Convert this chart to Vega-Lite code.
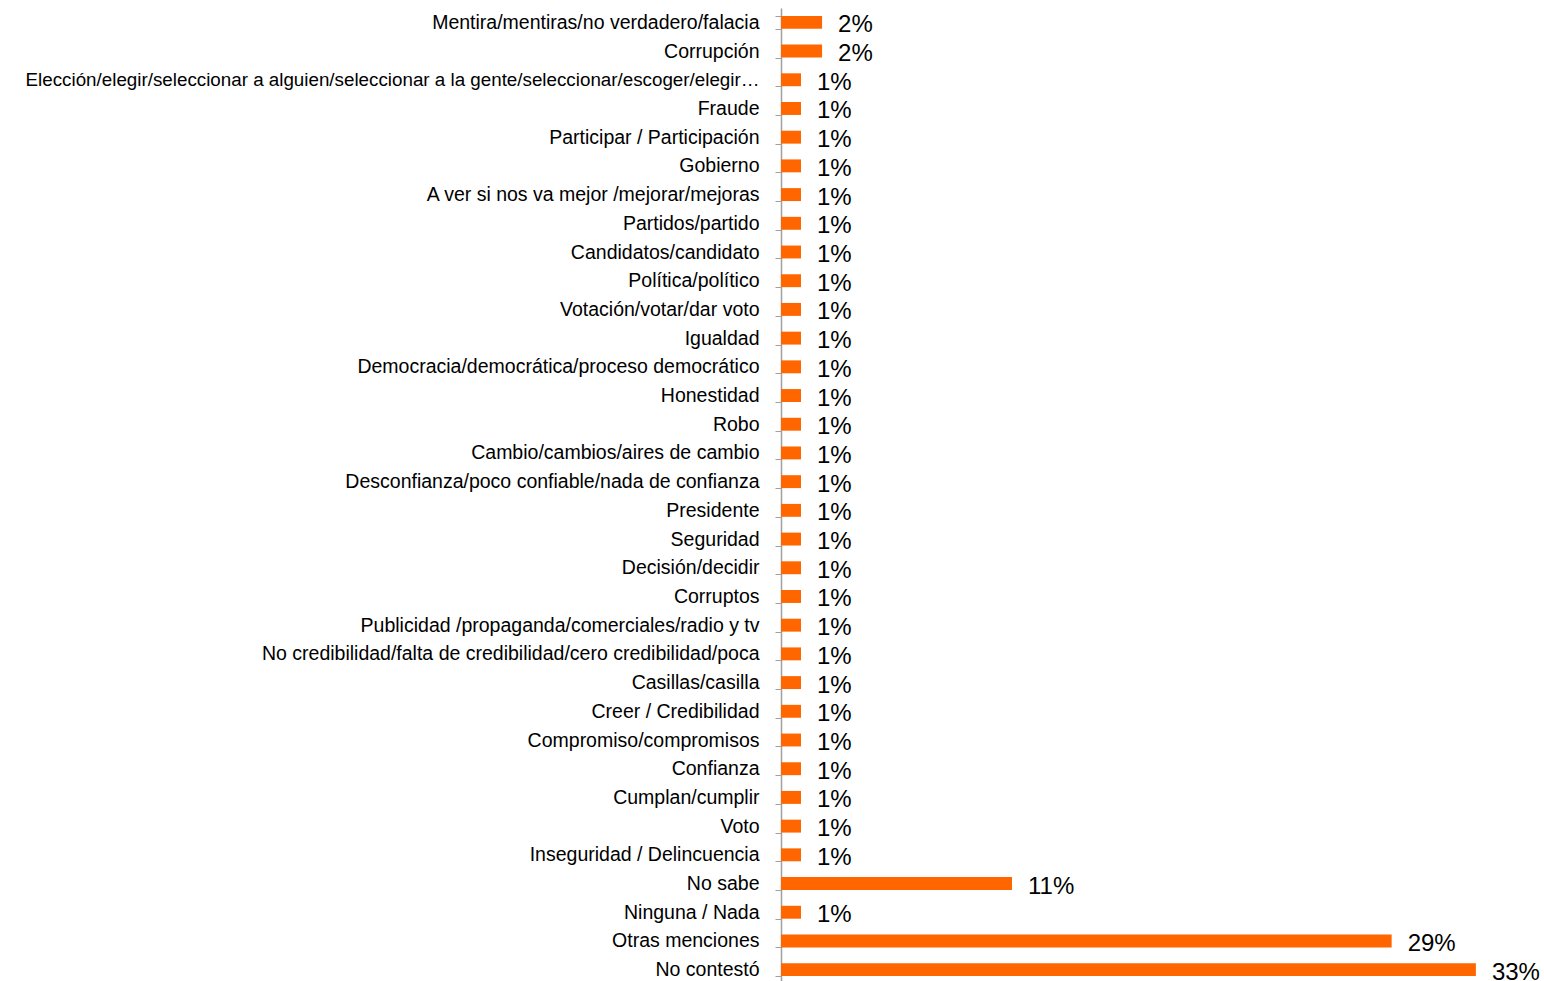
{
  "$schema": "https://vega.github.io/schema/vega-lite/v6.json",
  "autosize": "none",
  "width": 737,
  "height": 976,
  "padding": {"left": 781, "top": 8, "right": 26, "bottom": 0},
  "background": "white",
  "config": {"view": {"stroke": null}},
  "data": {"values": [
    {"cat": "Mentira/mentiras/no verdadero/falacia", "pct": 0.0195},
    {"cat": "Corrupción", "pct": 0.0195},
    {"cat": "Elección/elegir/seleccionar a alguien/seleccionar a la gente/seleccionar/escoger/elegir…", "pct": 0.0095},
    {"cat": "Fraude", "pct": 0.0095},
    {"cat": "Participar / Participación", "pct": 0.0095},
    {"cat": "Gobierno", "pct": 0.0095},
    {"cat": "A ver si nos va mejor /mejorar/mejoras", "pct": 0.0095},
    {"cat": "Partidos/partido", "pct": 0.0095},
    {"cat": "Candidatos/candidato", "pct": 0.0095},
    {"cat": "Política/político", "pct": 0.0095},
    {"cat": "Votación/votar/dar voto", "pct": 0.0095},
    {"cat": "Igualdad", "pct": 0.0095},
    {"cat": "Democracia/democrática/proceso democrático", "pct": 0.0095},
    {"cat": "Honestidad", "pct": 0.0095},
    {"cat": "Robo", "pct": 0.0095},
    {"cat": "Cambio/cambios/aires de cambio", "pct": 0.0095},
    {"cat": "Desconfianza/poco confiable/nada de confianza", "pct": 0.0095},
    {"cat": "Presidente", "pct": 0.0095},
    {"cat": "Seguridad", "pct": 0.0095},
    {"cat": "Decisión/decidir", "pct": 0.0095},
    {"cat": "Corruptos", "pct": 0.0095},
    {"cat": "Publicidad /propaganda/comerciales/radio y tv", "pct": 0.0095},
    {"cat": "No credibilidad/falta de credibilidad/cero credibilidad/poca", "pct": 0.0095},
    {"cat": "Casillas/casilla", "pct": 0.0095},
    {"cat": "Creer / Credibilidad", "pct": 0.0095},
    {"cat": "Compromiso/compromisos", "pct": 0.0095},
    {"cat": "Confianza", "pct": 0.0095},
    {"cat": "Cumplan/cumplir", "pct": 0.0095},
    {"cat": "Voto", "pct": 0.0095},
    {"cat": "Inseguridad / Delincuencia", "pct": 0.0095},
    {"cat": "No sabe", "pct": 0.1097},
    {"cat": "Ninguna / Nada", "pct": 0.0095},
    {"cat": "Otras menciones", "pct": 0.29},
    {"cat": "No contestó", "pct": 0.33}
  ]},
  "encoding": {
    "y": {
      "field": "cat", "type": "nominal", "sort": null, "title": null,
      "scale": {"paddingInner": 0.55, "paddingOuter": 0.275},
      "axis": {
        "tickBand": "extent", "tickSize": 6, "tickColor": "#a0a0a0",
        "domainColor": "#a0a0a0", "domainWidth": 1.5,
        "labelPadding": 16, "labelFont": "Liberation Sans",
        "labelFontSize": {"condition": {"test": "length(datum.label) > 70", "value": 18.8}, "value": 19.5},
        "labelColor": "#000000", "labelLimit": 775
      }
    },
    "x": {
      "field": "pct", "type": "quantitative",
      "scale": {"domain": [0, 0.35], "nice": false},
      "axis": null
    }
  },
  "layer": [
    {"mark": {"type": "bar", "color": "#FF6600"}},
    {
      "mark": {"type": "text", "align": "left", "baseline": "middle", "dx": 16, "dy": 3,
               "font": "Liberation Sans", "fontSize": 24, "color": "#000000"},
      "encoding": {"text": {"field": "pct", "format": ".0%"}}
    }
  ]
}
